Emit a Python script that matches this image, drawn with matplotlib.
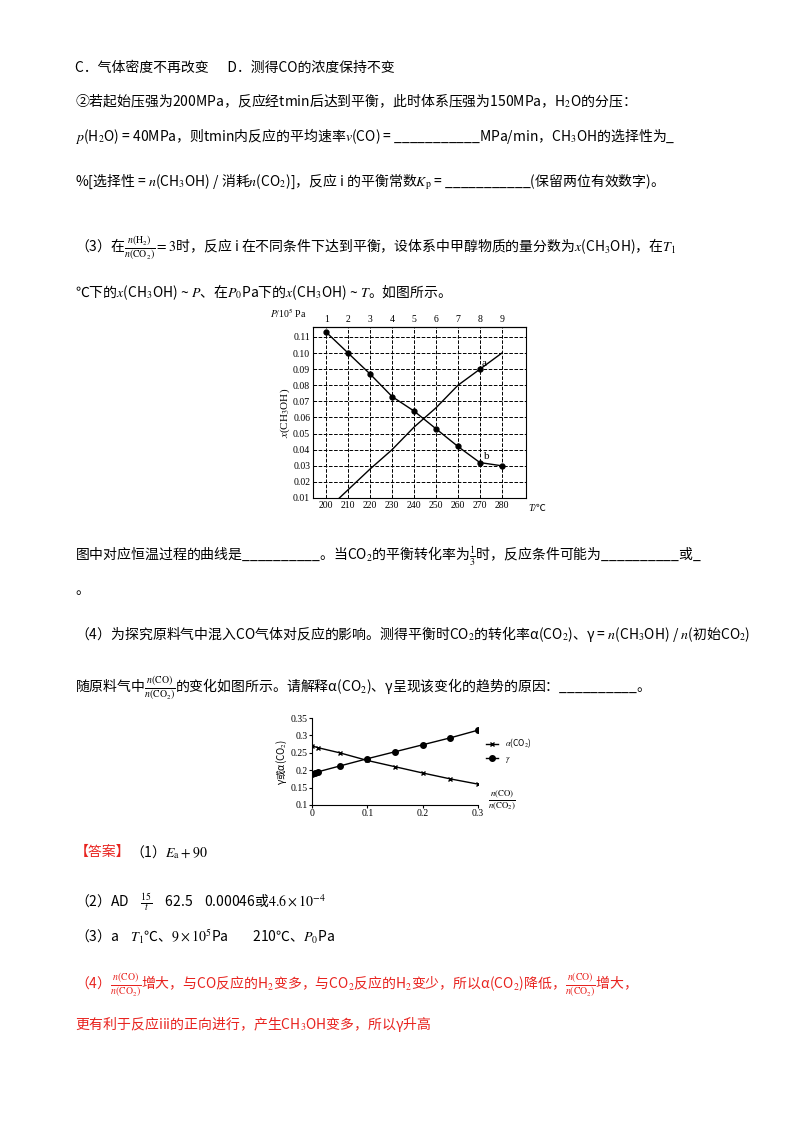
import matplotlib
matplotlib.use("Agg")
import matplotlib.pyplot as plt

plt.rcParams['font.family'] = ['Noto Sans CJK SC', 'DejaVu Sans']
plt.rcParams['mathtext.fontset'] = 'stix'

# chart 1 data
T_b = [200, 210, 220, 230, 240, 250, 260, 270, 280]
x_b = [0.113, 0.100, 0.087, 0.073, 0.064, 0.053, 0.042, 0.032, 0.030]
T_a = [206, 220, 230, 240, 250, 260, 270, 280]
x_a = [0.010, 0.028, 0.040, 0.054, 0.066, 0.080, 0.090, 0.100]
T_ticks = [200, 210, 220, 230, 240, 250, 260, 270, 280]
P_labels = ['1', '2', '3', '4', '5', '6', '7', '8', '9']
y1_ticks = [0.01, 0.02, 0.03, 0.04, 0.05, 0.06, 0.07, 0.08, 0.09, 0.10, 0.11]

# chart 2 data
r_alpha = [0, 0.01, 0.05, 0.1, 0.15, 0.2, 0.25, 0.3]
alpha = [0.27, 0.265, 0.25, 0.228, 0.21, 0.192, 0.175, 0.16]
r_gamma = [0, 0.005, 0.01, 0.05, 0.1, 0.15, 0.2, 0.25, 0.3]
gamma = [0.19, 0.192, 0.195, 0.212, 0.233, 0.253, 0.273, 0.293, 0.315]

W, H = 800, 1134
fig = plt.figure(figsize=(8, 11.34), dpi=100)
SER = ['Liberation Serif', 'Noto Sans CJK SC', 'DejaVu Sans']

def T(x, y, s, color='black', size=10, **kw):
    fig.text(x / W, 1 - y / H, s, color=color, fontsize=size, va='center', ha='left', **kw)

red = '#e8231f'
T(75, 68, 'C．气体密度不再改变      D．测得CO的浓度保持不变')
T(75, 101, '②若起始压强为200MPa，反应经tmin后达到平衡，此时体系压强为150MPa，H$_2$O的分压：')
T(75, 136, r'$p$(H$_2$O) = 40MPa，则tmin内反应的平均速率$v$(CO) = ___________MPa/min，CH$_3$OH的选择性为_')
T(75, 182, r'%[选择性 = $n$(CH$_3$OH) / 消耗$n$(CO$_2$)]，反应 i 的平衡常数$K_\mathrm{p}$ = ___________(保留两位有效数字)。')
T(75, 248, r'（3）在$\frac{n(\mathrm{H_2})}{n(\mathrm{CO_2})}=3$时，反应 i 在不同条件下达到平衡，设体系中甲醇物质的量分数为$x$(CH$_3$OH)，在$T_1$')
T(75, 292, r'℃下的$x$(CH$_3$OH) ~ $P$、在$P_0$Pa下的$x$(CH$_3$OH) ~ $T$。如图所示。')
T(75, 556, r'图中对应恒温过程的曲线是__________。当CO$_2$的平衡转化率为$\frac{1}{3}$时，反应条件可能为__________或_')
T(75, 590, '。')
T(75, 634, r'（4）为探究原料气中混入CO气体对反应的影响。测得平衡时CO$_2$的转化率α(CO$_2$)、γ = $n$(CH$_3$OH) / $n$(初始CO$_2$)')
T(75, 688, r'随原料气中$\frac{n(\mathrm{CO})}{n(\mathrm{CO_2})}$的变化如图所示。请解释α(CO$_2$)、γ呈现该变化的趋势的原因：__________。')
fig.text(75 / W, 1 - 852 / H, '【答案】', color=red, fontsize=10, va='center')
T(130, 852, r'（1）$E_\mathrm{a}+90$')
T(75, 902, r'（2）AD    $\frac{15}{t}$    62.5    0.00046或$4.6\times10^{-4}$')
T(75, 937, r'（3）a    $T_1$℃、$9\times10^5$Pa        210℃、$P_0$Pa')
T(75, 985, r'（4）$\frac{n(\mathrm{CO})}{n(\mathrm{CO_2})}$增大，与CO反应的H$_2$变多，与CO$_2$反应的H$_2$变少，所以α(CO$_2$)降低，$\frac{n(\mathrm{CO})}{n(\mathrm{CO_2})}$增大，', color=red)
T(75, 1025, '更有利于反应iii的正向进行，产生CH$_3$OH变多，所以γ升高', color=red)

# chart 1
ax1 = fig.add_axes([313 / W, 1 - 498 / H, (526 - 313) / W, (498 - 327) / H])
ax1.plot(T_b, x_b, 'k-', lw=1, marker='o', ms=3.5)
ax1.plot(T_a, x_a, 'k-', lw=1)
ax1.plot([T_a[-2]], [x_a[-2]], 'ko', ms=3.5)
ax1.set_xlim(194, 291)
ax1.set_ylim(0.01, 0.1162)
ax1.set_xticks(T_ticks)
ax1.set_yticks(y1_ticks)
ax1.set_yticklabels([f'{v:.2f}' for v in y1_ticks], fontsize=7, family=SER)
ax1.set_xticklabels([str(t) for t in T_ticks], fontsize=7, family=SER)
ax1.grid(True, ls='--', color='k', lw=0.7)
ax1.tick_params(length=0, pad=2)
ax1.set_ylabel(r'$x$(CH$_3$OH)', fontsize=8, family=SER, labelpad=1)
ax1.text(271, 0.092, 'a', fontsize=8, family=SER)
ax1.text(272, 0.034, 'b', fontsize=8, family=SER)
ax1.text(1.01, -0.06, 'T/℃', transform=ax1.transAxes, fontsize=7, family=SER, style='italic', va='center')
top = ax1.secondary_xaxis('top')
top.set_xticks(T_ticks)
top.set_xticklabels(P_labels, fontsize=7, family=SER)
top.tick_params(length=0, pad=2)
ax1.text(-0.2, 1.04, r'$P$/10$^5$ Pa', transform=ax1.transAxes, fontsize=7, family=SER, va='bottom')

# chart 2
ax2 = fig.add_axes([312 / W, 1 - 805 / H, (478 - 312) / W, (805 - 718) / H])
ax2.plot(r_alpha, alpha, 'k-', lw=1, marker='x', ms=3, label=r'$\alpha$(CO$_2$)')
ax2.plot(r_gamma, gamma, 'k-', lw=1, marker='o', ms=4, label=r'$\gamma$')
ax2.set_xlim(0, 0.3)
ax2.set_ylim(0.1, 0.35)
ax2.set_xticks([0, 0.1, 0.2, 0.3])
ax2.set_xticklabels(['0', '0.1', '0.2', '0.3'], fontsize=7, family=SER)
ax2.set_yticks([0.1, 0.15, 0.2, 0.25, 0.3, 0.35])
ax2.set_yticklabels(['0.1', '0.15', '0.2', '0.25', '0.3', '0.35'], fontsize=7, family=SER)
ax2.spines['top'].set_visible(False)
ax2.spines['right'].set_visible(False)
ax2.tick_params(length=2, pad=1)
ax2.set_ylabel(r'γ或α(CO$_2$)', fontsize=7, labelpad=1)
ax2.legend(loc='center left', bbox_to_anchor=(1.0, 0.62), frameon=False, fontsize=6, handlelength=1.5)
ax2.text(1.06, 0.05, r'$\frac{n(\mathrm{CO})}{n(\mathrm{CO_2})}$', transform=ax2.transAxes, fontsize=9, va='center')

fig.savefig('out.png', dpi=100)
